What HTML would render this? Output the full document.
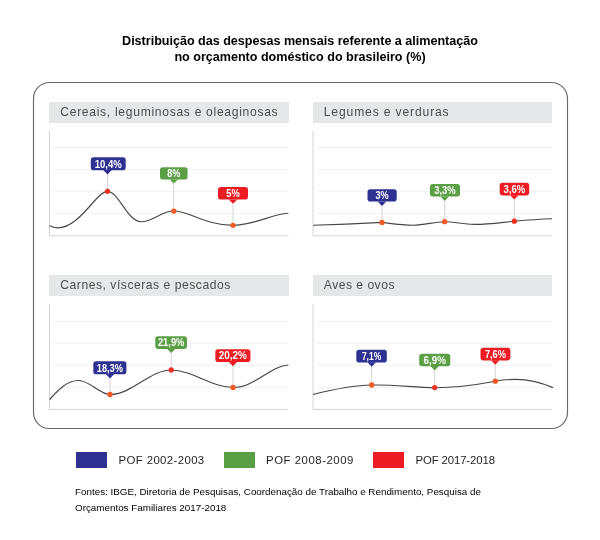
<!DOCTYPE html>
<html lang="pt-BR">
<head>
<meta charset="utf-8">
<title>Distribuição das despesas mensais referente a alimentação</title>
<style>
html,body{margin:0;padding:0;background:#fff;}
.page{position:absolute;left:0;top:0;width:600px;height:540px;will-change:transform;}
body{width:600px;height:540px;position:relative;overflow:hidden;font-family:"Liberation Sans",sans-serif;}
h1{position:absolute;left:0;top:33px;width:600px;margin:0;text-align:center;font-weight:bold;font-size:12.6px;line-height:16px;color:#000;letter-spacing:-0.02px;}
.frame{position:absolute;left:0;top:0;width:600px;height:540px;}
.frame rect{fill:none;stroke:#68696b;stroke-width:1.15;}
.panel h2{position:absolute;margin:0;box-sizing:border-box;height:21.3px;background:#e6e7e8;color:#4d4d4f;font-weight:normal;font-size:12.1px;line-height:21.6px;padding-left:11.1px;white-space:nowrap;}
.panel svg{position:absolute;left:0;top:0;width:600px;height:540px;overflow:visible;}
.cv{fill:none;stroke:#474749;stroke-width:1.15;stroke-linecap:butt;stroke-linejoin:round;}
.lb{font-family:"Liberation Sans",sans-serif;font-weight:bold;font-size:10.5px;fill:#fff;text-anchor:middle;}
#p1 h2{left:49.2px;top:101.7px;width:239.5px;letter-spacing:0.70px;}
#p2 h2{left:312.7px;top:101.7px;width:239.3px;letter-spacing:0.86px;}
#p3 h2{left:49.2px;top:275.1px;width:239.5px;letter-spacing:0.54px;}
#p4 h2{left:312.7px;top:275.1px;width:239.3px;letter-spacing:0.50px;}
.legend{position:absolute;left:0;top:452px;margin:0;padding:0;list-style:none;height:16.3px;width:600px;}
.legend li{position:absolute;top:0;height:16.4px;line-height:16.6px;font-size:11.4px;color:#231f20;white-space:nowrap;letter-spacing:0.3px;}
.legend i{position:absolute;top:0;width:30.8px;height:16.4px;display:block;}
.legend span{position:absolute;top:0;}
.src{position:absolute;left:75px;top:483.6px;margin:0;width:460px;font-size:9.84px;line-height:16px;color:#000;white-space:nowrap;}
</style>
</head>
<body>
<main class="page">
<h1>Distribuição das despesas mensais referente a alimentação<br>no orçamento doméstico do brasileiro (%)</h1>
<svg class="frame" viewBox="0 0 600 540"><rect x="33.5" y="82.5" width="534" height="346" rx="16" ry="16"/></svg>
<section class="panel" id="p1">
<h2>Cereais, leguminosas e oleaginosas</h2>
<svg viewBox="0 0 600 540">
<line x1="52.7" y1="147.5" x2="288.4" y2="147.5" stroke="#ecedee" stroke-width="0.8"/>
<line x1="52.7" y1="169.5" x2="288.4" y2="169.5" stroke="#ecedee" stroke-width="0.8"/>
<line x1="52.7" y1="191.3" x2="288.4" y2="191.3" stroke="#ecedee" stroke-width="0.8"/>
<line x1="52.7" y1="213.4" x2="288.4" y2="213.4" stroke="#ecedee" stroke-width="0.8"/>
<path d="M49.5 130.8L49.5 235.8L288.4 235.8" fill="none" stroke="#d1d3d4" stroke-width="1"/>
<path class="cv" d="M49.7 225.8 C52 227 54.5 227.8 57.5 227.8 C80 227.8 96.5 191.3 107.5 191.3 C118.5 191.3 127.5 221.7 141 221.7 C153.5 221.7 161 211 173.8 211 C190 211 205 225.3 233 225.3 C254 225.3 271 214.3 288.4 213.3"/>
<line x1="107.5" y1="174.1" x2="107.5" y2="191.3" stroke="#d4d5d6" stroke-width="1"/>
<rect x="90.8" y="157.3" width="34.9" height="12.9" rx="2.8" ry="2.8" fill="#2e3192"/>
<path d="M103.2 170.0L111.8 170.0L107.5 174.6Z" fill="#2e3192"/>
<text x="108.25" y="167.60" class="lb" textLength="27.1" lengthAdjust="spacingAndGlyphs">10,4%</text>
<line x1="173.8" y1="183.1" x2="173.8" y2="211.1" stroke="#d4d5d6" stroke-width="1"/>
<rect x="160" y="167.3" width="27.6" height="12.3" rx="2.8" ry="2.8" fill="#5a9f45"/>
<path d="M169.5 179.4L178.10000000000002 179.4L173.8 183.6Z" fill="#5a9f45"/>
<text x="173.80" y="177.00" class="lb" textLength="13.2" lengthAdjust="spacingAndGlyphs">8%</text>
<line x1="233" y1="203.3" x2="233" y2="225.3" stroke="#d4d5d6" stroke-width="1"/>
<rect x="218" y="187" width="30.0" height="12.6" rx="2.8" ry="2.8" fill="#ed1c24"/>
<path d="M228.7 199.4L237.3 199.4L233 203.8Z" fill="#ed1c24"/>
<text x="233.00" y="197.00" class="lb" textLength="13.5" lengthAdjust="spacingAndGlyphs">5%</text>
<circle cx="107.5" cy="191.3" r="2.65" fill="#ee3124"/>
<circle cx="173.8" cy="211.1" r="2.65" fill="#f15a24"/>
<circle cx="233" cy="225.3" r="2.65" fill="#f15a24"/>
</svg>
</section>
<section class="panel" id="p2">
<h2>Legumes e verduras</h2>
<svg viewBox="0 0 600 540">
<line x1="316.2" y1="147.5" x2="552" y2="147.5" stroke="#ecedee" stroke-width="0.8"/>
<line x1="316.2" y1="169.5" x2="552" y2="169.5" stroke="#ecedee" stroke-width="0.8"/>
<line x1="316.2" y1="191.3" x2="552" y2="191.3" stroke="#ecedee" stroke-width="0.8"/>
<line x1="316.2" y1="213.4" x2="552" y2="213.4" stroke="#ecedee" stroke-width="0.8"/>
<path d="M313 130.8L313 235.8L552 235.8" fill="none" stroke="#d1d3d4" stroke-width="1"/>
<path class="cv" d="M313 225.3 C340 224.4 362 223.4 382 222.4 C392 223.6 402 225.2 413 225.2 C425 225.2 434 221.7 444.7 221.7 C455 221.7 463 224.4 474 224.4 C490 224.4 500 222.6 514.3 221.2 C528 220 540 219.2 552 218.8"/>
<line x1="382" y1="205.4" x2="382" y2="222.4" stroke="#d4d5d6" stroke-width="1"/>
<rect x="367.5" y="189.2" width="29.2" height="12.4" rx="2.8" ry="2.8" fill="#2e3192"/>
<path d="M377.7 201.4L386.3 201.4L382 205.9Z" fill="#2e3192"/>
<text x="382.10" y="199.00" class="lb" textLength="13.2" lengthAdjust="spacingAndGlyphs">3%</text>
<line x1="444.7" y1="200.4" x2="444.7" y2="221.7" stroke="#d4d5d6" stroke-width="1"/>
<rect x="430" y="183.9" width="30.0" height="12.7" rx="2.8" ry="2.8" fill="#5a9f45"/>
<path d="M440.4 196.4L449.0 196.4L444.7 200.9Z" fill="#5a9f45"/>
<text x="445.00" y="194.00" class="lb" textLength="21.7" lengthAdjust="spacingAndGlyphs">3,3%</text>
<line x1="514.3" y1="199.1" x2="514.3" y2="221.2" stroke="#d4d5d6" stroke-width="1"/>
<rect x="499.7" y="182.8" width="29.5" height="12.6" rx="2.8" ry="2.8" fill="#ed1c24"/>
<path d="M509.99999999999994 195.20000000000002L518.5999999999999 195.20000000000002L514.3 199.6Z" fill="#ed1c24"/>
<text x="514.45" y="192.80" class="lb" textLength="21.7" lengthAdjust="spacingAndGlyphs">3,6%</text>
<circle cx="382" cy="222.4" r="2.65" fill="#f15a24"/>
<circle cx="444.7" cy="221.7" r="2.65" fill="#f15a24"/>
<circle cx="514.3" cy="221.2" r="2.65" fill="#ee3124"/>
</svg>
</section>
<section class="panel" id="p3">
<h2>Carnes, vísceras e pescados</h2>
<svg viewBox="0 0 600 540">
<line x1="52.7" y1="321.3" x2="288.4" y2="321.3" stroke="#ecedee" stroke-width="0.8"/>
<line x1="52.7" y1="343.2" x2="288.4" y2="343.2" stroke="#ecedee" stroke-width="0.8"/>
<line x1="52.7" y1="365.3" x2="288.4" y2="365.3" stroke="#ecedee" stroke-width="0.8"/>
<line x1="52.7" y1="387.4" x2="288.4" y2="387.4" stroke="#ecedee" stroke-width="0.8"/>
<path d="M49.5 304.3L49.5 409.4L288.4 409.4" fill="none" stroke="#d1d3d4" stroke-width="1"/>
<path class="cv" d="M49.7 399.5 C58 390 67 380.5 78.3 380.5 C90 380.5 100 394.5 110 394.5 C132 394.5 150 370 171.2 370 C192 370 212 387.5 233 387.5 C255 387.5 270 366 288.4 365"/>
<line x1="110" y1="377.9" x2="110" y2="394.5" stroke="#d4d5d6" stroke-width="1"/>
<rect x="93.3" y="361.3" width="33.1" height="12.9" rx="2.8" ry="2.8" fill="#2e3192"/>
<path d="M105.7 374.0L114.3 374.0L110 378.4Z" fill="#2e3192"/>
<text x="109.85" y="371.60" class="lb" textLength="26.2" lengthAdjust="spacingAndGlyphs">18,3%</text>
<line x1="171.2" y1="352.6" x2="171.2" y2="370" stroke="#d4d5d6" stroke-width="1"/>
<rect x="155.3" y="336.3" width="31.7" height="12.6" rx="2.8" ry="2.8" fill="#5a9f45"/>
<path d="M166.89999999999998 348.7L175.5 348.7L171.2 353.1Z" fill="#5a9f45"/>
<text x="171.15" y="346.30" class="lb" textLength="26.4" lengthAdjust="spacingAndGlyphs">21,9%</text>
<line x1="233" y1="365.8" x2="233" y2="387.5" stroke="#d4d5d6" stroke-width="1"/>
<rect x="215.3" y="349.2" width="35.1" height="12.8" rx="2.8" ry="2.8" fill="#ed1c24"/>
<path d="M228.7 361.8L237.3 361.8L233 366.3Z" fill="#ed1c24"/>
<text x="232.85" y="359.40" class="lb" textLength="28.3" lengthAdjust="spacingAndGlyphs">20,2%</text>
<circle cx="110" cy="394.5" r="2.65" fill="#f15a24"/>
<circle cx="171.2" cy="370" r="2.65" fill="#ee3124"/>
<circle cx="233" cy="387.5" r="2.65" fill="#f15a24"/>
</svg>
</section>
<section class="panel" id="p4">
<h2>Aves e ovos</h2>
<svg viewBox="0 0 600 540">
<line x1="316.2" y1="321.3" x2="552" y2="321.3" stroke="#ecedee" stroke-width="0.8"/>
<line x1="316.2" y1="343.2" x2="552" y2="343.2" stroke="#ecedee" stroke-width="0.8"/>
<line x1="316.2" y1="365.3" x2="552" y2="365.3" stroke="#ecedee" stroke-width="0.8"/>
<line x1="316.2" y1="387.4" x2="552" y2="387.4" stroke="#ecedee" stroke-width="0.8"/>
<path d="M313 304.3L313 409.4L552 409.4" fill="none" stroke="#d1d3d4" stroke-width="1"/>
<path class="cv" d="M313 394.5 C333 389.4 352 385.3 371.7 385 C395 384.5 415 387.7 434.7 387.7 C455 387.7 478 384.5 495.3 381.2 C503 379.8 509 379.4 515.8 379.4 C530 379.4 542 383 553 387.6"/>
<line x1="371.7" y1="366.3" x2="371.7" y2="385" stroke="#d4d5d6" stroke-width="1"/>
<rect x="356.3" y="349.7" width="30.5" height="12.8" rx="2.8" ry="2.8" fill="#2e3192"/>
<path d="M367.4 362.3L376.0 362.3L371.7 366.8Z" fill="#2e3192"/>
<text x="371.55" y="359.90" class="lb" textLength="19.2" lengthAdjust="spacingAndGlyphs">7,1%</text>
<line x1="434.7" y1="370.0" x2="434.7" y2="387.6" stroke="#d4d5d6" stroke-width="1"/>
<rect x="419.2" y="353.7" width="31.1" height="12.6" rx="2.8" ry="2.8" fill="#5a9f45"/>
<path d="M430.4 366.1L439.0 366.1L434.7 370.5Z" fill="#5a9f45"/>
<text x="434.75" y="363.70" class="lb" textLength="22.4" lengthAdjust="spacingAndGlyphs">6,9%</text>
<line x1="495.3" y1="364.2" x2="495.3" y2="381.2" stroke="#d4d5d6" stroke-width="1"/>
<rect x="480.5" y="347.8" width="29.9" height="12.6" rx="2.8" ry="2.8" fill="#ed1c24"/>
<path d="M491.0 360.2L499.6 360.2L495.3 364.7Z" fill="#ed1c24"/>
<text x="495.45" y="357.80" class="lb" textLength="21" lengthAdjust="spacingAndGlyphs">7,6%</text>
<circle cx="371.7" cy="385" r="2.65" fill="#f15a24"/>
<circle cx="434.7" cy="387.6" r="2.65" fill="#ee3124"/>
<circle cx="495.3" cy="381.2" r="2.65" fill="#f15a24"/>
</svg>
</section>
<ul class="legend">
<li style="left:76px"><i style="left:0;background:#2e3192"></i><span style="left:42.6px;letter-spacing:0.38px">POF 2002-2003</span></li>
<li style="left:223.8px"><i style="left:0;background:#5a9f45"></i><span style="left:42.3px;letter-spacing:0.52px">POF 2008-2009</span></li>
<li style="left:373.2px"><i style="left:0;background:#ed1c24"></i><span style="left:42.3px;letter-spacing:-0.13px">POF 2017-2018</span></li>
</ul>
<p class="src">Fontes: IBGE, Diretoria de Pesquisas, Coordenação de Trabalho e Rendimento, Pesquisa de<br>Orçamentos Familiares 2017-2018</p>
</main>
</body>
</html>
